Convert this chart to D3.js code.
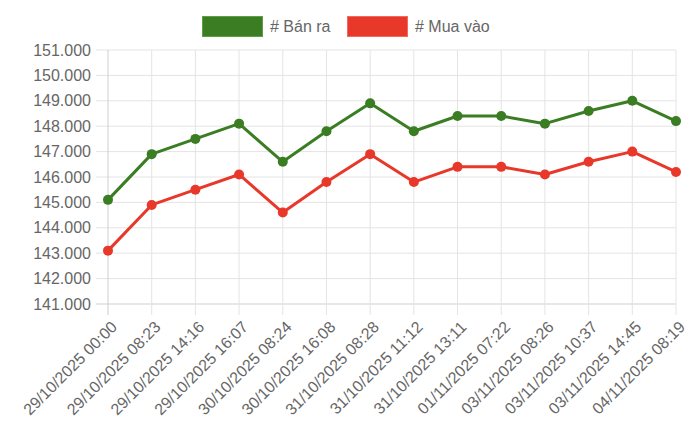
<!DOCTYPE html>
<html>
<head>
<meta charset="utf-8">
<script src="https://cdn.jsdelivr.net/npm/d3@7"></script>
<style>
  body { margin: 0; background: #fff; }
  svg { display: block; font-family: "Liberation Sans", Arial, Helvetica, sans-serif; }
</style>
</head>
<body>
<div id="chart"></div>
<script>
const labels = [
  "29/10/2025 00:00", "29/10/2025 08:23", "29/10/2025 14:16", "29/10/2025 16:07",
  "30/10/2025 08:24", "30/10/2025 16:08", "31/10/2025 08:28", "31/10/2025 11:12",
  "31/10/2025 13:11", "01/11/2025 07:22", "03/11/2025 08:26", "03/11/2025 10:37",
  "03/11/2025 14:45", "04/11/2025 08:19"
];
const banRa = [145100, 146900, 147500, 148100, 146600, 147800, 148900, 147800, 148400, 148400, 148100, 148600, 149000, 148200];
const muaVao = [143100, 144900, 145500, 146100, 144600, 145800, 146900, 145800, 146400, 146400, 146100, 146600, 147000, 146200];
const yTicks = [141000, 142000, 143000, 144000, 145000, 146000, 147000, 148000, 149000, 150000, 151000];

const series = [
  {name: "# Bán ra", values: banRa, color: "#3a7d22", border: "#5e9e45"},
  {name: "# Mua vào", values: muaVao, color: "#e8382a", border: "#f06a5e"}
];

const width = 700, height = 439;
const margin = {top: 50, right: 24, bottom: 135, left: 108};

const svg = d3.select("#chart").append("svg")
  .attr("width", width)
  .attr("height", height);

const x = d3.scalePoint()
  .domain(labels)
  .range([margin.left, width - margin.right]);

const y = d3.scaleLinear()
  .domain([141000, 151000])
  .range([height - margin.bottom, margin.top]);

const fmt = v => d3.format(",d")(v).replace(/,/g, ".");

// grid
svg.append("g")
  .selectAll("line")
  .data(yTicks)
  .join("line")
    .attr("x1", margin.left - 12)
    .attr("x2", width - margin.right)
    .attr("y1", d => y(d))
    .attr("y2", d => y(d))
    .attr("stroke", d => d === 141000 ? "#cfcfcf" : "#e4e4e4")
    .attr("stroke-width", 1);

svg.append("g")
  .selectAll("line")
  .data(labels)
  .join("line")
    .attr("x1", d => x(d))
    .attr("x2", d => x(d))
    .attr("y1", margin.top)
    .attr("y2", height - margin.bottom + 11)
    .attr("stroke", (d, i) => i === 0 ? "#cfcfcf" : "#e4e4e4")
    .attr("stroke-width", 1);

// y labels
svg.append("g")
  .selectAll("text")
  .data(yTicks)
  .join("text")
    .attr("x", margin.left - 17)
    .attr("y", d => y(d))
    .attr("dy", "0.35em")
    .attr("text-anchor", "end")
    .attr("font-size", 16)
    .attr("fill", "#666")
    .text(fmt);

// x labels
svg.append("g")
  .selectAll("text")
  .data(labels)
  .join("text")
    .attr("transform", d => `translate(${x(d) + 6},${height - margin.bottom + 20}) rotate(-45)`)
    .attr("text-anchor", "end")
    .attr("dy", "0.35em")
    .attr("font-size", 16)
    .attr("fill", "#666")
    .text(d => d);

// lines + points
const line = d3.line()
  .x((d, i) => x(labels[i]))
  .y(d => y(d));

series.forEach(s => {
  const g = svg.append("g");
  g.append("path")
    .datum(s.values)
    .attr("fill", "none")
    .attr("stroke", s.color)
    .attr("stroke-width", 3)
    .attr("stroke-linejoin", "round")
    .attr("d", line);
  g.selectAll("circle")
    .data(s.values)
    .join("circle")
      .attr("cx", (d, i) => x(labels[i]))
      .attr("cy", d => y(d))
      .attr("r", 5)
      .attr("fill", s.color);
});

// legend
const legend = svg.append("g");
const legendX = [202, 347];
series.forEach((s, i) => {
  const lg = legend.append("g").attr("transform", `translate(${legendX[i]},16)`);
  lg.append("rect")
    .attr("x", 0.5).attr("y", 0.5)
    .attr("width", 60).attr("height", 20)
    .attr("fill", s.color)
    .attr("stroke", s.border)
    .attr("stroke-width", 1);
  lg.append("text")
    .attr("x", 68)
    .attr("y", 10.5)
    .attr("dy", "0.35em")
    .attr("font-size", 16)
    .attr("fill", "#666")
    .text(s.name);
});
</script>
</body>
</html>
